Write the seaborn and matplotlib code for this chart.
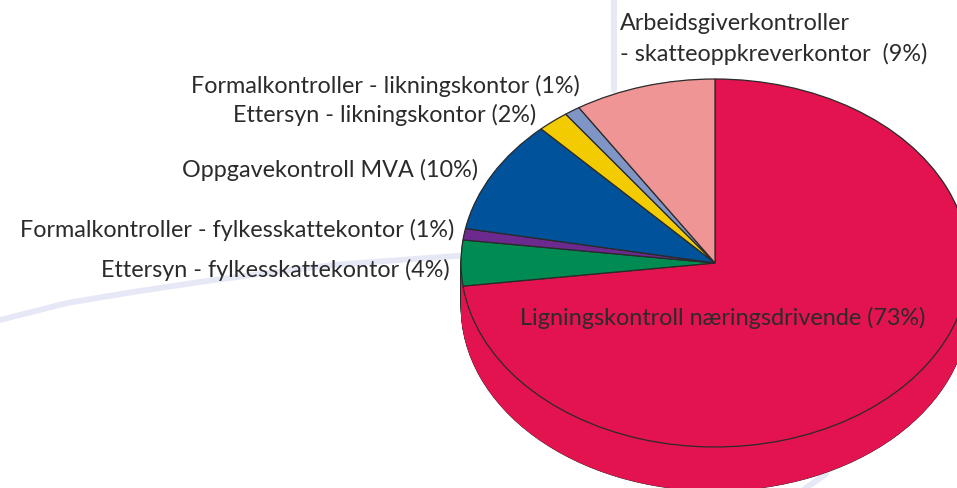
import matplotlib
matplotlib.use('Agg')
import matplotlib.pyplot as plt
import seaborn as sns
import numpy as np

W, H = 957, 488

# andeler, med klokka fra toppen
kontroller = ['Ligningskontroll næringsdrivende', 'Ettersyn - fylkesskattekontor',
              'Formalkontroller - fylkesskattekontor', 'Oppgavekontroll MVA',
              'Ettersyn - likningskontor', 'Formalkontroller - likningskontor',
              'Arbeidsgiverkontroller\n- skatteoppkreverkontor ']
andel = [73, 4, 1, 10, 2, 1, 9]
farger = ['#E2134F', '#008B52', '#6C2A8E', '#00539B', '#F2CB00', '#7F95C5', '#F09595']

# lyse bakgrunnslinjer (pikselkoordinater)
bue_x = [0, 67, 133, 200, 267, 333, 400, 470]
bue_y = [320, 303, 292, 282, 273, 265, 260, 255]
strek_x = [614, 614]
strek_y = [0, 90]
hale_x = [800, 826]
hale_y = [492, 474]

# plassering av tekst: x, y (midt), justering
tekst_pos = [(925, 318, 'right'), (450, 270, 'right'), (454, 230, 'right'), (478, 170, 'right'),
             (536, 115, 'right'), (580, 86, 'right'), (620, 39, 'left')]

sns.set_theme(style='white')
plt.rcParams['font.family'] = ['Lato', 'DejaVu Sans']

fig = plt.figure(figsize=(W / 100, H / 100), dpi=100)

# bakgrunn
bg = fig.add_axes([0, 0, 1, 1])
for xs, ys in [(bue_x, bue_y), (strek_x, strek_y), (hale_x, hale_y)]:
    sns.lineplot(x=xs, y=ys, sort=False, estimator=None, color='#E6E8F5', lw=4.2, ax=bg)
bg.set_xlim(0, W)
bg.set_ylim(H, 0)
bg.axis('off')

# kaka: sentrum (715, 263), rx 254, ry 184, tykkelse 44 px
cx, cy, rx, ry, dybde = 715, 263, 254, 184, 44
ax = fig.add_axes([0, 0, 1, 1], zorder=2)
ax.patch.set_alpha(0)
nivaa = np.arange(dybde, 0, -1) / ry
for d in nivaa:
    ax.pie([1], colors=['#2a2a2a'], center=(0, -d), radius=1.0, startangle=90, frame=False,
           wedgeprops={'edgecolor': '#2a2a2a', 'linewidth': 0.5})
for d in nivaa:
    ax.pie([1], colors=[farger[0]], center=(0, -d), radius=1.0, startangle=90, frame=False,
           wedgeprops={'edgecolor': farger[0], 'linewidth': 0})
ax.pie(andel, colors=farger, startangle=90, counterclock=False, radius=1.0, frame=False,
       wedgeprops={'edgecolor': '#2a2a2a', 'linewidth': 0.9})
ax.set_aspect('auto')
ax.set_xlim(-cx / rx, (W - cx) / rx)
ax.set_ylim((cy - H) / ry, cy / ry)
ax.axis('off')

for navn, pst, (x, y, ha) in zip(kontroller, andel, tekst_pos):
    fig.text(x / W, 1 - y / H, f'{navn} ({pst}%)', ha=ha, va='center', fontsize=16.8,
             color='#2b2b2b', linespacing=1.5, zorder=5)

fig.savefig('out.png', dpi=100)
